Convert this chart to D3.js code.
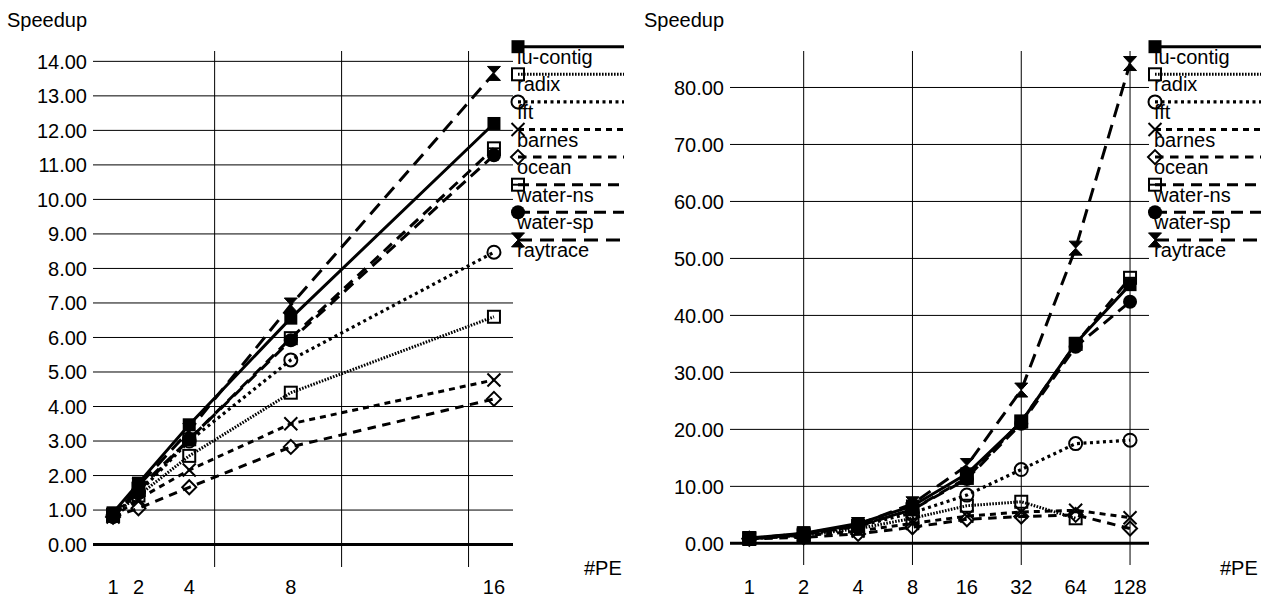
<!DOCTYPE html>
<html>
<head>
<meta charset="utf-8">
<script src="https://cdn.jsdelivr.net/npm/d3@7"></script>
<style>
	body { margin: 0; background: #fff; }
	text { font-family: "Liberation Sans", Arial, sans-serif; font-size: 20px; fill: #000; }
</style>
</head>
<body>
<svg id="chart" width="1266" height="599"></svg>
<script>
// values, one entry per #PE
var pe = [1, 2, 4, 8, 16, 32, 64, 128]
var luContig = [0.92, 1.78, 3.47, 6.56, 12.2, 21.3, 35.1, 45.4]
var radix = [0.86, 1.42, 2.57, 4.40, 6.60, 7.3, 4.4]
var fft = [0.85, 1.5, 3.0, 5.35, 8.47, 12.95, 17.5, 18.1]
var barnes = [0.8, 1.32, 2.16, 3.50, 4.77, 5.5, 5.8, 4.5]
var ocean = [0.8, 1.05, 1.66, 2.83, 4.22, 4.7, 5.0, 2.6]
var waterNs = [0.86, 1.62, 3.05, 5.98, 11.48, 21.4, 35.0, 46.6]
var waterSp = [0.8, 1.55, 3.05, 5.92, 11.28, 21.0, 34.5, 42.4]
var raytrace = [0.85, 1.7, 3.3, 6.94, 13.65, 26.9, 51.8, 84.2]

var seriesNames = ["lu-contig", "radix", "fft", "barnes", "ocean", "water-ns", "water-sp", "raytrace"]
var seriesValues = [luContig, radix, fft, barnes, ocean, waterNs, waterSp, raytrace]

var leftPE = [1, 2, 4, 8, 16]
var rightPE = [1, 2, 4, 8, 16, 32, 64, 128]
var leftYTicks = [0, 1, 2, 3, 4, 5, 6, 7, 8, 9, 10, 11, 12, 13, 14]
var rightYTicks = [0, 10, 20, 30, 40, 50, 60, 70, 80]
var leftGridX = [5, 10, 15]
var rightGridX = [2, 8, 32, 128]

var styles = [
	{ marker: "squareFilled", dash: null, width: 3 },
	{ marker: "square", dash: "1.6,1.4", width: 3 },
	{ marker: "circle", dash: "3,3.5", width: 3.2 },
	{ marker: "cross", dash: "6,5", width: 3 },
	{ marker: "diamond", dash: "8.5,6.5", width: 3 },
	{ marker: "squareLine", dash: "11,7", width: 3 },
	{ marker: "dot", dash: "12,7", width: 3 },
	{ marker: "hourglass", dash: "14,8", width: 3 }
]

var svg = d3.select("#chart")

function drawMarker(g, type, x, y) {
	var m = g.append("g").attr("transform", "translate(" + x + "," + y + ")")
	if (type == "squareFilled") {
		m.append("rect").attr("x", -6.5).attr("y", -6.5).attr("width", 13).attr("height", 13).attr("fill", "#000")
	} else if (type == "square" || type == "squareLine") {
		m.append("rect").attr("x", -6).attr("y", -6).attr("width", 12).attr("height", 12)
			.attr("fill", "none").attr("stroke", "#000").attr("stroke-width", 2)
		if (type == "squareLine") {
			m.append("path").attr("d", "M-6,0H6").attr("stroke", "#000").attr("stroke-width", 2)
		}
	} else if (type == "circle") {
		m.append("circle").attr("r", 6.5).attr("fill", "none").attr("stroke", "#000").attr("stroke-width", 2)
	} else if (type == "cross") {
		m.append("path").attr("d", "M-6.5,-6.5L6.5,6.5M6.5,-6.5L-6.5,6.5").attr("stroke", "#000").attr("stroke-width", 2)
	} else if (type == "diamond") {
		m.append("path").attr("d", "M0,-7L7,0L0,7L-7,0Z").attr("fill", "none").attr("stroke", "#000").attr("stroke-width", 2)
	} else if (type == "dot") {
		m.append("circle").attr("r", 7).attr("fill", "#000")
	} else if (type == "hourglass") {
		m.append("path").attr("d", "M-6.5,-7H6.5L0,0ZM-6.5,7H6.5L0,0Z").attr("fill", "#000")
			.attr("stroke", "#000").attr("stroke-width", 1)
	}
}

function drawChart(cfg) {
	var g = svg.append("g")
	var xScale = cfg.xScale.range([cfg.left, cfg.right])
	var yScale = d3.scaleLinear().domain(cfg.yDomain).range([cfg.bottom, cfg.top])

	// horizontal grid
	g.selectAll(".hgrid")
		.data(cfg.yTicks.filter(d => d != 0))
		.enter().append("line")
		.attr("x1", cfg.left).attr("x2", cfg.right)
		.attr("y1", d => yScale(d)).attr("y2", d => yScale(d))
		.attr("stroke", "#000").attr("stroke-width", 1)

	// vertical grid
	g.selectAll(".vgrid")
		.data(cfg.gridX)
		.enter().append("line")
		.attr("x1", d => xScale(d)).attr("x2", d => xScale(d))
		.attr("y1", cfg.top).attr("y2", cfg.bottom)
		.attr("stroke", "#000").attr("stroke-width", 1)

	// zero line
	g.append("line")
		.attr("x1", cfg.left).attr("x2", cfg.right)
		.attr("y1", yScale(0)).attr("y2", yScale(0))
		.attr("stroke", "#000").attr("stroke-width", 3)

	// y labels
	g.selectAll(".ylab")
		.data(cfg.yTicks)
		.enter().append("text")
		.attr("x", cfg.left - 6)
		.attr("y", d => yScale(d))
		.attr("dy", "0.36em")
		.attr("text-anchor", "end")
		.text(d => d.toFixed(2))

	// x labels
	g.selectAll(".xlab")
		.data(cfg.pe)
		.enter().append("text")
		.attr("x", d => xScale(d))
		.attr("y", 594)
		.attr("text-anchor", "middle")
		.text(d => d)

	g.append("text").attr("x", cfg.left - 86).attr("y", 27).text("Speedup")
	g.append("text").attr("x", cfg.right + 71).attr("y", 575).text("#PE")

	var line = d3.line()
		.x(d => xScale(d.pe))
		.y(d => yScale(d.v))

	seriesValues.forEach(function (vals, i) {
		var pts = vals.slice(0, cfg.pe.length).map((v, j) => ({ pe: cfg.pe[j], v: v }))
		var st = styles[i]
		g.append("path")
			.datum(pts)
			.attr("d", line)
			.attr("fill", "none")
			.attr("stroke", "#000")
			.attr("stroke-width", st.width)
			.attr("stroke-dasharray", st.dash)
		pts.forEach(function (p) {
			drawMarker(g, st.marker, xScale(p.pe), yScale(p.v))
		})
	})

	// legend
	var legend = g.append("g")
	seriesNames.forEach(function (name, i) {
		var ly = 46.7 + i * 27.6
		var st = styles[i]
		legend.append("line")
			.attr("x1", cfg.legendX).attr("x2", cfg.legendX + 106)
			.attr("y1", ly).attr("y2", ly)
			.attr("stroke", "#000")
			.attr("stroke-width", st.width)
			.attr("stroke-dasharray", st.dash)
		drawMarker(legend, st.marker, cfg.legendX, ly)
		legend.append("text")
			.attr("x", cfg.legendX - 1)
			.attr("y", ly + 17)
			.text(name)
	})
}

drawChart({
	xScale: d3.scaleLinear().domain([0.21, 16.75]),
	yDomain: [-0.65, 14.3],
	left: 93, right: 513, top: 51, bottom: 567,
	pe: leftPE,
	yTicks: leftYTicks,
	gridX: leftGridX,
	legendX: 518
})

drawChart({
	xScale: d3.scaleLog().base(2).domain([0.782, 163]),
	yDomain: [-3.8, 86.4],
	left: 730, right: 1149, top: 51, bottom: 565,
	pe: rightPE,
	yTicks: rightYTicks,
	gridX: rightGridX,
	legendX: 1155
})
</script>
</body>
</html>
